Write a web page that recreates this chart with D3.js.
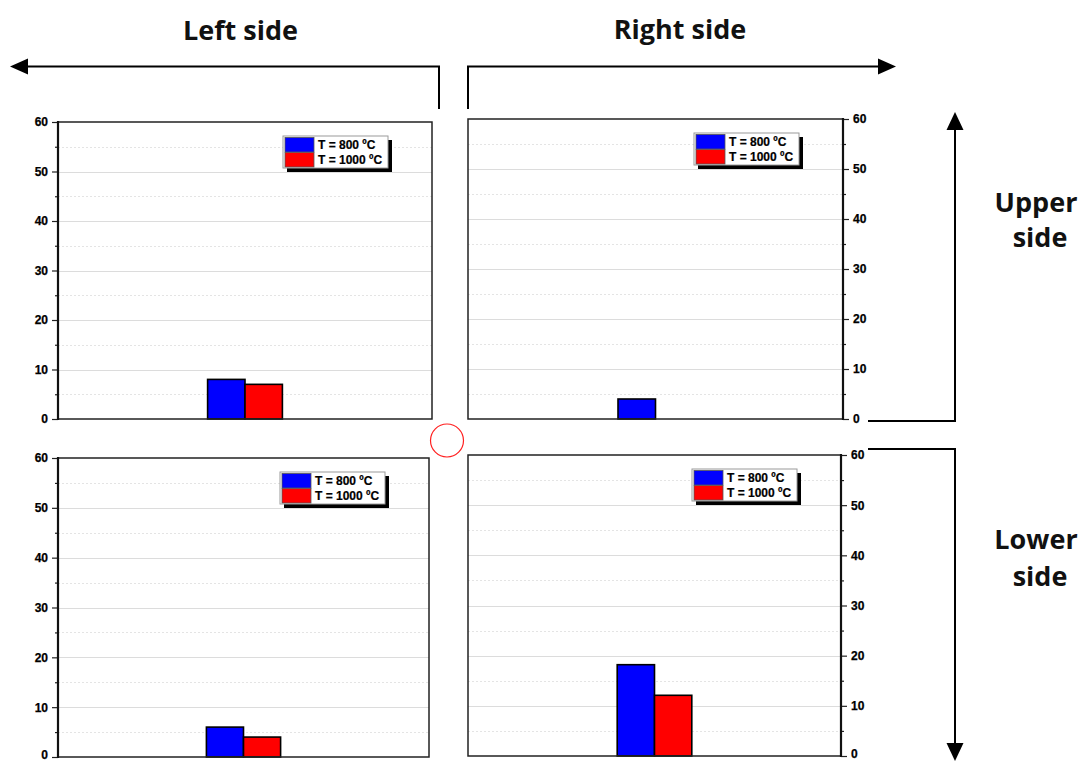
<!DOCTYPE html>
<html><head><meta charset="utf-8">
<script src="https://cdn.jsdelivr.net/npm/d3@7"></script>
<style>body{margin:0;background:#fff}</style>
</head><body><svg id="c" width="1081" height="761"></svg>
<script>
// ---- data ----
const seriesNames = ["T = 800 ºC", "T = 1000 ºC"];
const seriesColors = ["#0000ff", "#ff0000"];
const category = ["sample"];
const upperLeftValues = [8, 7];
const upperRightValues = [4, 0];
const lowerLeftValues = [6, 4];
const lowerRightValues = [18.2, 12.1];
const yMajorTicks = [0, 10, 20, 30, 40, 50, 60];
const yMinorTicks = [5, 15, 25, 35, 45, 55];
const yDomain = [0, 60];
const horizontalLabels = ["Left side", "Right side"];
const verticalLabels = [["Upper", "side"], ["Lower", "side"]];

// ---- layout ----
const svg = d3.select("#c");
const panels = [
  {values: upperLeftValues, left: 58, right: 432, top: 122, bottom: 419, side: "left"},
  {values: upperRightValues, left: 468, right: 843, top: 119, bottom: 419, side: "right"},
  {values: lowerLeftValues, left: 58, right: 429, top: 458, bottom: 757, side: "left"},
  {values: lowerRightValues, left: 468, right: 841, top: 455, bottom: 756, side: "right"}
];

panels.forEach(p => {
  const g = svg.append("g");
  const y = d3.scaleLinear().domain(yDomain).range([p.bottom, p.top]);
  const x0 = d3.scaleBand().domain(category).range([p.left, p.right]).paddingInner(0).paddingOuter(2);
  const x1 = d3.scaleBand().domain(seriesNames).range([0, x0.bandwidth()]);

  // grid
  g.selectAll(".minor").data(yMinorTicks).join("line")
    .attr("x1", p.left).attr("x2", p.right)
    .attr("y1", d => Math.round(y(d)) + 0.5).attr("y2", d => Math.round(y(d)) + 0.5)
    .attr("stroke", "#e4e4e4").attr("stroke-width", 1).attr("stroke-dasharray", "2,2");
  g.selectAll(".major").data(yMajorTicks.filter(d => d > 0 && d < 60)).join("line")
    .attr("x1", p.left).attr("x2", p.right)
    .attr("y1", d => Math.round(y(d)) + 0.5).attr("y2", d => Math.round(y(d)) + 0.5)
    .attr("stroke", "#dcdcdc").attr("stroke-width", 1);

  // bars
  const bars = p.values.map((v, i) => ({v, name: seriesNames[i], color: seriesColors[i]})).filter(d => d.v > 0);
  g.selectAll(".bar").data(bars).join("rect")
    .attr("x", d => x0(category[0]) + x1(d.name))
    .attr("width", x1.bandwidth())
    .attr("y", d => y(d.v))
    .attr("height", d => y(0) - y(d.v))
    .attr("fill", d => d.color)
    .attr("stroke", "#000").attr("stroke-width", 1.6);

  // frame
  g.append("rect").attr("x", p.left).attr("y", p.top)
    .attr("width", p.right - p.left).attr("height", p.bottom - p.top)
    .attr("fill", "none").attr("stroke", "#222").attr("stroke-width", 1.5);

  // axes
  const axisX = p.side === "left" ? p.left : p.right;
  const mkAxis = p.side === "left" ? d3.axisLeft : d3.axisRight;
  const ax = g.append("g").attr("transform", `translate(${axisX},0)`)
    .call(mkAxis(y).tickValues(yMajorTicks).tickSize(6).tickPadding(p.side === "left" ? 4 : 4));
  ax.select(".domain").remove();
  ax.selectAll("line").attr("stroke", "#222").attr("stroke-width", 1.2);
  ax.selectAll("text").attr("font-family", "'Liberation Sans', Arial, sans-serif")
    .attr("font-weight", "bold").attr("font-size", 12).attr("fill", "#000")
    .attr("stroke", "#000").attr("stroke-width", 0.25)
    .attr("dy", d => (d === 0 && p.bottom > 740) ? "0.1em" : "0.32em");
  const axm = g.append("g").attr("transform", `translate(${axisX},0)`)
    .call(mkAxis(y).tickValues(yMinorTicks).tickSize(3).tickFormat(""));
  axm.select(".domain").remove();
  axm.selectAll("line").attr("stroke", "#222").attr("stroke-width", 1.2);
  g.append("line").attr("x1", axisX).attr("x2", axisX).attr("y1", p.top - 1).attr("y2", p.bottom + 1)
    .attr("stroke", "#111").attr("stroke-width", 2.2);

  // legend
  const lw = 105, lh = 32;
  const lx = p.right - 44 - lw, ly = p.top + 14;
  const lg = g.append("g").attr("transform", `translate(${lx},${ly})`);
  lg.append("rect").attr("x", 4).attr("y", 4).attr("width", lw).attr("height", lh).attr("fill", "#000");
  lg.append("rect").attr("x", 0).attr("y", 0).attr("width", lw).attr("height", lh)
    .attr("fill", "#fff").attr("stroke", "#9a9a9a").attr("stroke-width", 1);
  seriesNames.forEach((name, i) => {
    lg.append("rect").attr("x", 2).attr("y", 1.5 + i * 15).attr("width", 29).attr("height", 14.5)
      .attr("fill", seriesColors[i]).attr("stroke", "#555").attr("stroke-width", 0.8);
    lg.append("text").attr("x", 35).attr("y", 13 + i * 15).text(name)
      .attr("font-family", "'Liberation Sans', Arial, sans-serif").attr("font-weight", "bold")
      .attr("font-size", 12).attr("fill", "#000").attr("stroke", "#000").attr("stroke-width", 0.2);
  });
});

// ---- annotation arrows ----
const ann = svg.append("g").attr("stroke", "#000").attr("stroke-width", 2).attr("fill", "none");
ann.append("path").attr("d", "M439,109 L439,66.5 L26,66.5");
svg.append("path").attr("d", "M10,66.5 L28,58.5 L28,74.5 Z").attr("fill", "#000");
ann.append("path").attr("d", "M468,109 L468,66.5 L880,66.5");
svg.append("path").attr("d", "M896,66.5 L878,58.5 L878,74.5 Z").attr("fill", "#000");
ann.append("path").attr("d", "M868,421 L955,421 L955,128");
svg.append("path").attr("d", "M955,112 L946.5,130 L963.5,130 Z").attr("fill", "#000");
ann.append("path").attr("d", "M868,449 L955,449 L955,744");
svg.append("path").attr("d", "M955,761 L946.5,743 L963.5,743 Z").attr("fill", "#000");

// red circle
svg.append("circle").attr("cx", 447).attr("cy", 440.5).attr("r", 16.5)
  .attr("fill", "none").attr("stroke", "#ff2020").attr("stroke-width", 1.2);

// ---- labels ----
const lblFont = "'Open Sans', 'Noto Sans', sans-serif";
svg.append("text").attr("x", 240.5).attr("y", 40).attr("text-anchor", "middle").text(horizontalLabels[0])
  .attr("font-family", lblFont).attr("font-weight", "bold").attr("font-size", 27).attr("fill", "#111");
svg.append("text").attr("x", 680).attr("y", 39).attr("text-anchor", "middle").text(horizontalLabels[1])
  .attr("font-family", lblFont).attr("font-weight", "bold").attr("font-size", 27).attr("fill", "#111");
[[212, 247], [549, 586]].forEach((ys, k) => {
  verticalLabels[k].forEach((t, j) => {
    svg.append("text").attr("x", j === 0 ? 1036 : 1040).attr("y", ys[j]).attr("text-anchor", "middle").text(t)
      .attr("font-family", lblFont).attr("font-weight", "bold").attr("font-size", 27).attr("fill", "#111");
  });
});
</script>
</body></html>
